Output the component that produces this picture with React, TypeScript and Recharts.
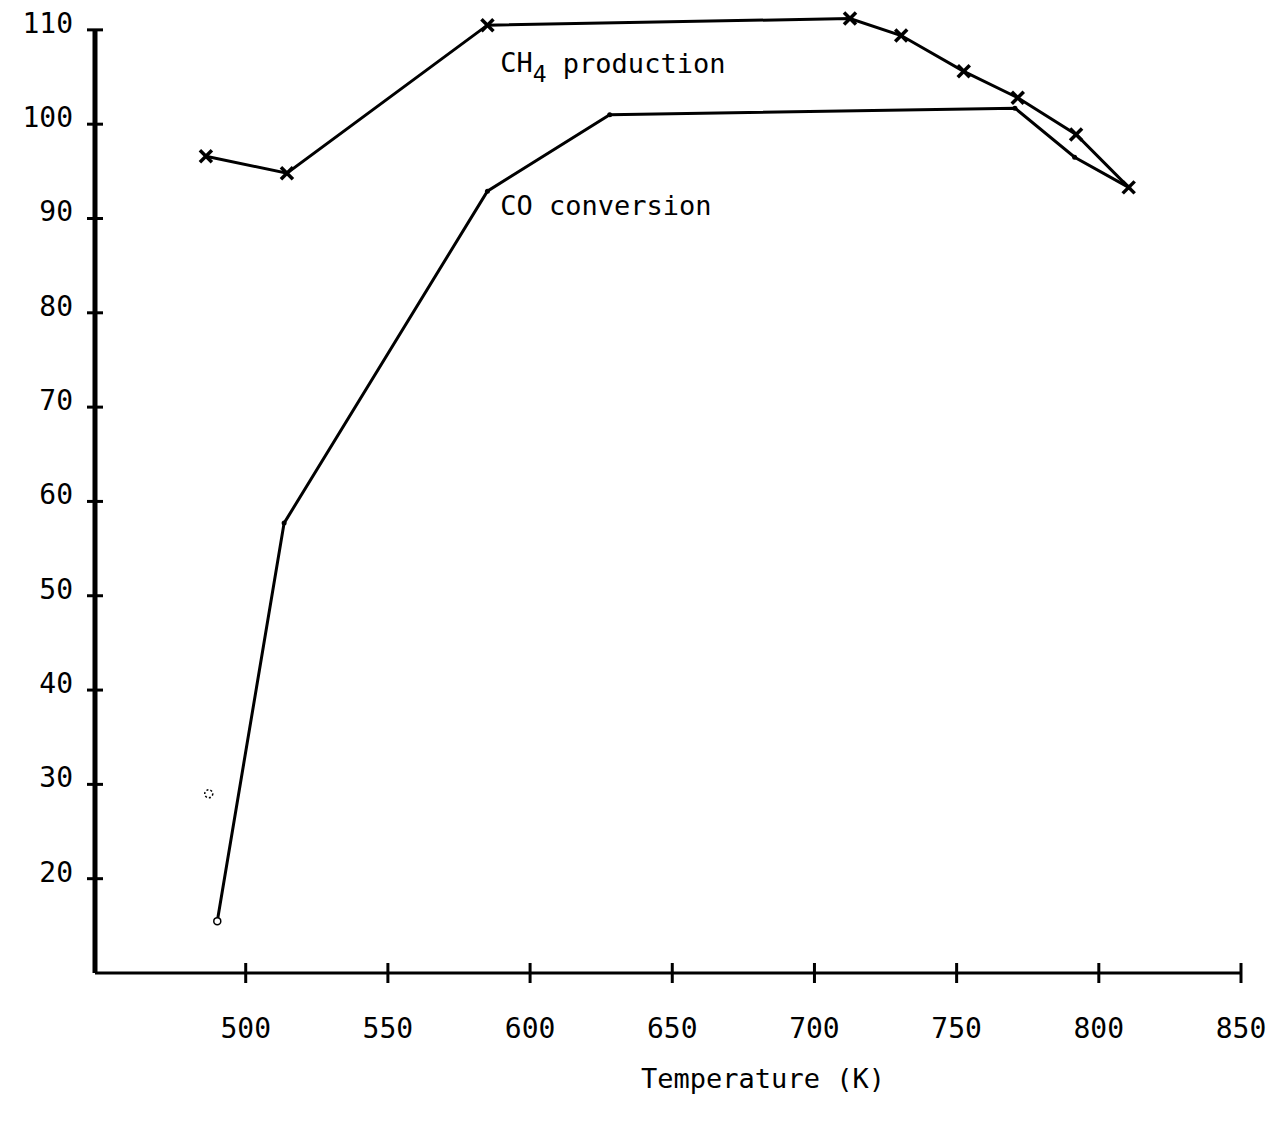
import { ComposedChart, Line, Scatter, XAxis, YAxis, ReferenceDot, ReferenceLine } from 'recharts';

// Temperature (K) readings for each curve
const ch4Temps = [486, 514.5, 585, 712.5, 730.5, 752.5, 771.5, 792, 810.5];
const ch4Values = [96.6, 94.8, 110.5, 111.2, 109.4, 105.6, 102.8, 98.9, 93.3];

const coTemps = [490, 513.5, 585, 628, 770.5, 791.5, 810.5];
const coValues = [15.5, 57.7, 92.9, 101, 101.7, 96.5, 93.3];

// lone point near 30 at the left
const strayTemps = [487];
const strayValues = [29];

const xTicks = [500, 550, 600, 650, 700, 750, 800, 850];
const yTicks = [20, 30, 40, 50, 60, 70, 80, 90, 100, 110];

const X_MIN = 447;
const X_MAX = 850;
const Y_MIN = 10;
const Y_AXIS_TOP = 110;
const Y_MAX = 112;

const ch4Data = ch4Temps.map((t, i) => ({ t, v: ch4Values[i] }));
const coData = coTemps.map((t, i) => ({ t, v: coValues[i] }));
const strayData = strayTemps.map((t, i) => ({ t, v: strayValues[i] }));

const FONT = '"DejaVu Sans Mono", "Liberation Mono", monospace';

const Y_TICK_SIZE = 8;
const Y_TICK_MARGIN = 14;
const X_TICK_SIZE = 10;
const X_TICK_MARGIN = 47;

const YTick = ({ x, y, payload }: any) => {
  const axisX = x + Y_TICK_SIZE + Y_TICK_MARGIN;
  return (
    <g>
      <line x1={axisX - 8} x2={axisX + 8} y1={y} y2={y} stroke="#000" strokeWidth={3} />
      <text x={x} y={y - 5} textAnchor="end" dominantBaseline="middle" fontFamily={FONT} fontSize={28} fill="#000">
        {payload.value}
      </text>
    </g>
  );
};

const XTick = ({ x, y, payload }: any) => {
  const axisY = y - X_TICK_SIZE - X_TICK_MARGIN;
  return (
    <g>
      <line x1={x} x2={x} y1={axisY - 10} y2={axisY + 10} stroke="#000" strokeWidth={3} />
      <text x={x} y={y} textAnchor="middle" dominantBaseline="middle" fontFamily={FONT} fontSize={28} fill="#000">
        {payload.value}
      </text>
    </g>
  );
};

const CrossDot = ({ cx, cy }: any) => {
  if (cx == null || cy == null) return null;
  const s = 6;
  return (
    <g>
      <line x1={cx - s} y1={cy - s} x2={cx + s} y2={cy + s} stroke="#000" strokeWidth={3.5} />
      <line x1={cx - s} y1={cy + s} x2={cx + s} y2={cy - s} stroke="#000" strokeWidth={3.5} />
    </g>
  );
};

const SmallDot = ({ cx, cy, index }: any) => {
  if (cx == null || cy == null) return null;
  if (index === 0) {
    return <circle cx={cx} cy={cy} r={3.5} fill="#fff" stroke="#000" strokeWidth={1.5} />;
  }
  return <circle cx={cx} cy={cy} r={2.5} fill="#000" />;
};

const StrayDot = ({ cx, cy }: any) => (
  <circle cx={cx} cy={cy} r={4} fill="none" stroke="#000" strokeWidth={1.5} strokeDasharray="2 2" />
);

const Ch4Label = ({ viewBox }: any) => (
  <text x={viewBox.x} y={viewBox.y} dominantBaseline="middle" fontFamily={FONT} fontSize={27} fill="#000">
    CH
    <tspan fontSize={23} dy={10}>4</tspan>
    <tspan dy={-10}> production</tspan>
  </text>
);

const CoLabel = ({ viewBox }: any) => (
  <text x={viewBox.x} y={viewBox.y} dominantBaseline="middle" fontFamily={FONT} fontSize={27} fill="#000">
    CO conversion
  </text>
);

const AxisTitle = ({ viewBox }: any) => (
  <text
    x={viewBox.x + viewBox.width / 2 + 95}
    y={viewBox.y + 107}
    textAnchor="middle"
    dominantBaseline="middle"
    fontFamily={FONT}
    fontSize={27}
    fill="#000"
  >
    Temperature (K)
  </text>
);

export default function App() {
  return (
    <div style={{ position: 'absolute', left: 0, top: 0, background: '#fff' }}>
      <ComposedChart width={1274} height={1124} margin={{ top: 11, right: 33, left: 15, bottom: 51 }}>
        <XAxis
          type="number"
          dataKey="t"
          domain={[X_MIN, X_MAX]}
          allowDataOverflow
          ticks={xTicks}
          axisLine={{ stroke: '#000', strokeWidth: 3 }}
          tickLine={false}
          tickSize={X_TICK_SIZE}
          tickMargin={X_TICK_MARGIN}
          tick={<XTick />}
          height={100}
          label={<AxisTitle />}
        />
        <YAxis
          type="number"
          dataKey="v"
          domain={[Y_MIN, Y_MAX]}
          allowDataOverflow
          ticks={yTicks}
          axisLine={false}
          tickLine={false}
          tickSize={Y_TICK_SIZE}
          tickMargin={Y_TICK_MARGIN}
          tick={<YTick />}
          width={80}
        />
        <ReferenceLine
          segment={[
            { x: X_MIN, y: Y_MIN },
            { x: X_MIN, y: Y_AXIS_TOP },
          ]}
          stroke="#000"
          strokeWidth={5}
        />
        <Line
          data={ch4Data}
          dataKey="v"
          type="linear"
          stroke="#000"
          strokeWidth={3}
          dot={<CrossDot />}
          activeDot={false}
          isAnimationActive={false}
        />
        <Line
          data={coData}
          dataKey="v"
          type="linear"
          stroke="#000"
          strokeWidth={3}
          dot={<SmallDot />}
          activeDot={false}
          isAnimationActive={false}
        />
        <Scatter data={strayData} dataKey="v" shape={<StrayDot />} isAnimationActive={false} />
        <ReferenceDot x={589.5} y={106.3} r={0} fill="none" stroke="none" label={<Ch4Label />} />
        <ReferenceDot x={589.5} y={91.2} r={0} fill="none" stroke="none" label={<CoLabel />} />
      </ComposedChart>
    </div>
  );
}
